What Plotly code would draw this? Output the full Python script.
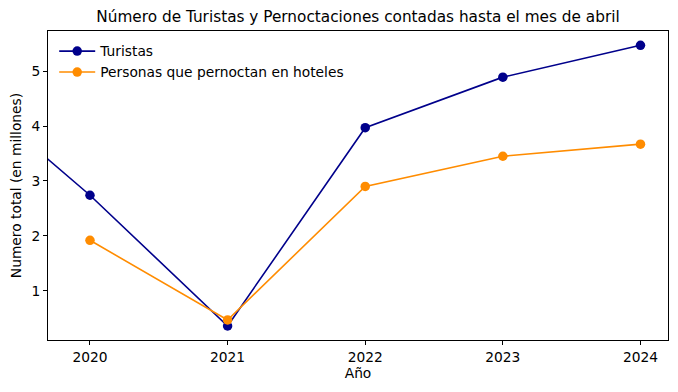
import plotly.graph_objects as go

years = [2019, 2020, 2021, 2022, 2023, 2024]
turistas = [4.89, 2.74, 0.36, 3.97, 4.89, 5.47]
hoteles = [None, 1.92, 0.47, 2.90, 3.45, 3.67]
x_ticks = [2020, 2021, 2022, 2023, 2024]
y_ticks = [1, 2, 3, 4, 5]

font = "DejaVu Sans"
fs = 13.8
fig = go.Figure()
fig.add_trace(go.Scatter(x=years, y=turistas, mode="lines+markers", name="Turistas",
                         line=dict(color="#00008B", width=1.6),
                         marker=dict(color="#00008B", size=9.5), cliponaxis=True))
fig.add_trace(go.Scatter(x=years, y=hoteles, mode="lines+markers",
                         name="Personas que pernoctan en hoteles",
                         line=dict(color="#FF8C00", width=1.6),
                         marker=dict(color="#FF8C00", size=9.5), cliponaxis=True))

fig.update_layout(
    width=678, height=392,
    margin=dict(l=48, r=10, t=31, b=52),
    paper_bgcolor="white", plot_bgcolor="white",
    font=dict(family=font, size=fs, color="black"),
    title=dict(text="Número de Turistas y Pernoctaciones contadas hasta el mes de abril",
               x=(48 + 668) / 2 / 678, xanchor="center", y=1 - 17 / 392, yanchor="middle",
               font=dict(size=15.3, family=font)),
    showlegend=True,
    legend=dict(x=0.01, y=0.985, xanchor="left", yanchor="top", bgcolor="rgba(255,255,255,0)",
                font=dict(size=fs, family=font), tracegroupgap=0, itemwidth=36),
)
fig.update_xaxes(range=[2019.695, 2024.2], tickvals=x_ticks, ticktext=[str(v) for v in x_ticks],
                 showgrid=False, zeroline=False, showline=True, linecolor="black", linewidth=1,
                 mirror=True, ticks="outside", ticklen=4, tickcolor="black",
                 tickfont=dict(size=fs),
                 title=dict(text="Año", font=dict(size=fs), standoff=4))
fig.update_yaxes(range=[0.105, 5.73], tickvals=y_ticks, ticktext=[str(v) for v in y_ticks],
                 showgrid=False, zeroline=False, showline=True, linecolor="black", linewidth=1,
                 mirror=True, ticks="outside", ticklen=4, tickcolor="black",
                 tickfont=dict(size=fs),
                 title=dict(text="Numero total (en millones)", font=dict(size=fs), standoff=6))

fig.write_html("out.html", config={"displayModeBar": False})

with open("out.html", "r", encoding="utf-8") as f:
    html = f.read()
html = html.replace("<head>", "<head><style>html,body{margin:0;padding:0;overflow:hidden}</style>", 1)
with open("out.html", "w", encoding="utf-8") as f:
    f.write(html)
